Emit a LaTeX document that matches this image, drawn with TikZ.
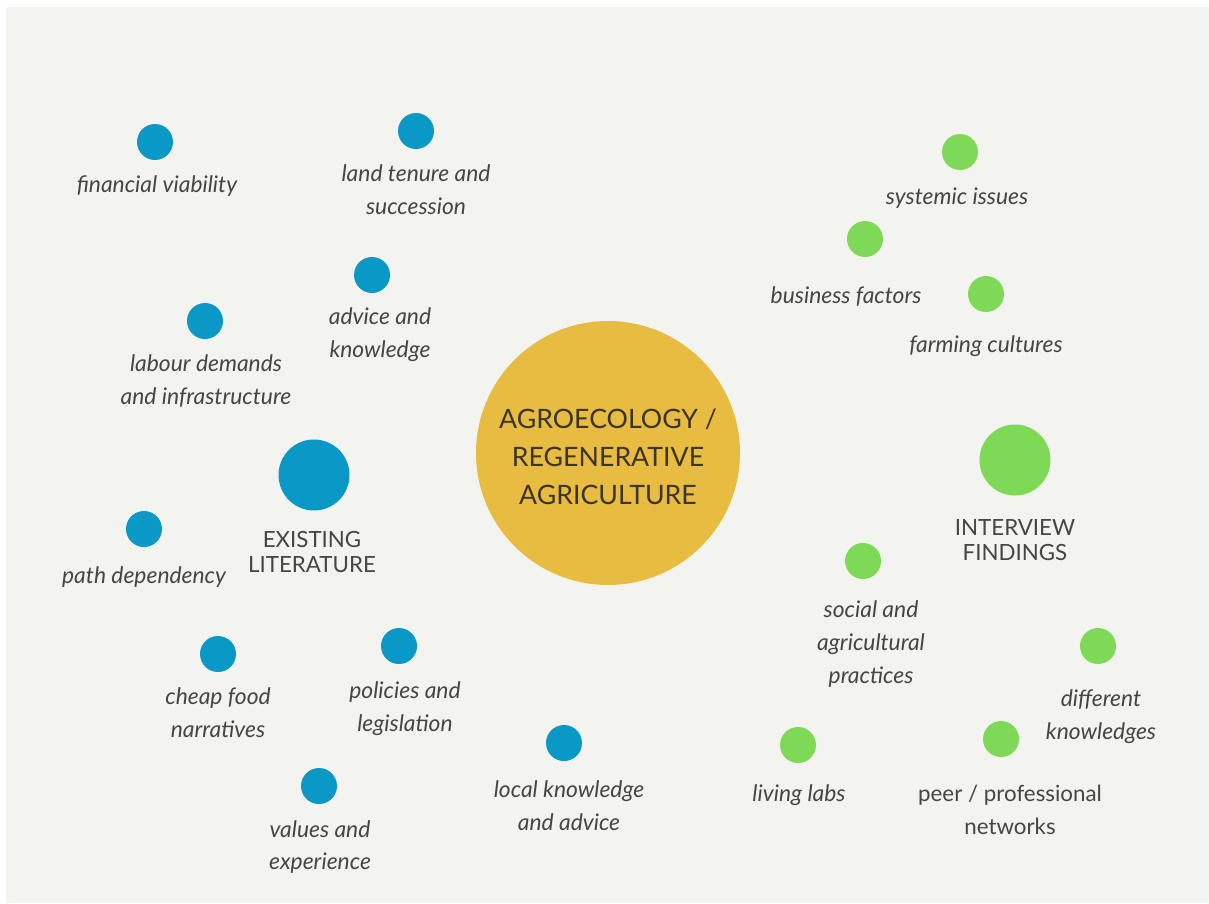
\documentclass[tikz,border=0pt]{standalone}
\usepackage{fontspec}
\setmainfont{Lato}

\definecolor{litblue}{HTML}{0A98C6}
\definecolor{intgreen}{HTML}{7ED957}
\definecolor{coregold}{HTML}{E8BC40}
\definecolor{bggray}{HTML}{F3F3EF}
\definecolor{txtgray}{HTML}{454545}
\definecolor{coretext}{HTML}{3B3526}

\begin{document}
\begin{tikzpicture}[x=0.02cm,y=-0.02cm,
    litdot/.style ={circle, fill=litblue, minimum size=0.72cm, inner sep=0pt},
    intdot/.style ={circle, fill=intgreen, minimum size=0.72cm, inner sep=0pt},
    bigdot/.style ={minimum size=1.42cm},
    theme/.style ={text=txtgray, align=center, inner sep=0pt,
                   font=\fontsize{13}{18.7}\selectfont\itshape},
    heading/.style ={text=txtgray, align=center, inner sep=0pt,
                   font=\fontsize{12.7}{14.7}\selectfont}]
   % background
   \fill[white] (0,0) rectangle (1209,903);
   \fill[bggray] (6,7) rectangle (1209,903);

   % centre
   \node[circle, fill=coregold, minimum size=5.28cm, inner sep=0pt] (core) at (608,453) {};
   \node[text=coretext, align=center, inner sep=0pt,
         font=\fontsize{15.2}{21.5}\selectfont] (coreL) at (608,457)
         {AGROECOLOGY /\\REGENERATIVE\\AGRICULTURE};

   % existing literature
   \node[litdot,bigdot] (lit) at (314,475) {};
   \node[heading] (litL) at (312,552) {EXISTING\\LITERATURE};
   \node[litdot] (fin) at (155,142) {};
   \node[theme] (finL) at (157,186) {financial viability};
   \node[litdot] (land) at (416,131) {};
   \node[theme] (landL) at (416,190) {land tenure and\\succession};
   \node[litdot] (adv) at (372,275) {};
   \node[theme] (advL) at (380,335) {advice and\\knowledge};
   \node[litdot] (lab) at (205,321) {};
   \node[theme] (labL) at (206,381) {labour demands\\and infrastructure};
   \node[litdot] (path) at (144,529) {};
   \node[theme] (pathL) at (144,577) {path dependency};
   \node[litdot] (cheap) at (218,654) {};
   \node[theme] (cheapL) at (218,713) {cheap food\\narratives};
   \node[litdot] (pol) at (399,646) {};
   \node[theme] (polL) at (405,709) {policies and\\legislation};
   \node[litdot] (val) at (319,786) {};
   \node[theme] (valL) at (320,847) {values and\\experience};
   \node[litdot] (loc) at (564,743) {};
   \node[theme] (locL) at (569,806) {local knowledge\\and advice};

   % interview findings
   \node[intdot,bigdot] (int) at (1015,460) {};
   \node[heading] (intL) at (1015,540) {INTERVIEW\\FINDINGS};
   \node[intdot] (sys) at (960,152) {};
   \node[theme] (sysL) at (957,198) {systemic issues};
   \node[intdot] (bus) at (865,239) {};
   \node[theme] (busL) at (846,297) {business factors};
   \node[intdot] (farm) at (986,294) {};
   \node[theme] (farmL) at (986,346) {farming cultures};
   \node[intdot] (soc) at (863,561) {};
   \node[theme] (socL) at (871,644) {social and\\agricultural\\practices};
   \node[intdot] (diff) at (1098,646) {};
   \node[theme] (diffL) at (1101,717) {different\\knowledges};
   \node[intdot] (liv) at (798,745) {};
   \node[theme] (livL) at (799,795) {living labs};
   \node[intdot] (peer) at (1001,739) {};
   \node[theme,font=\fontsize{12.7}{18.7}\selectfont] (peerL) at (1010,810) {peer / professional\\networks};
\end{tikzpicture}
\end{document}
